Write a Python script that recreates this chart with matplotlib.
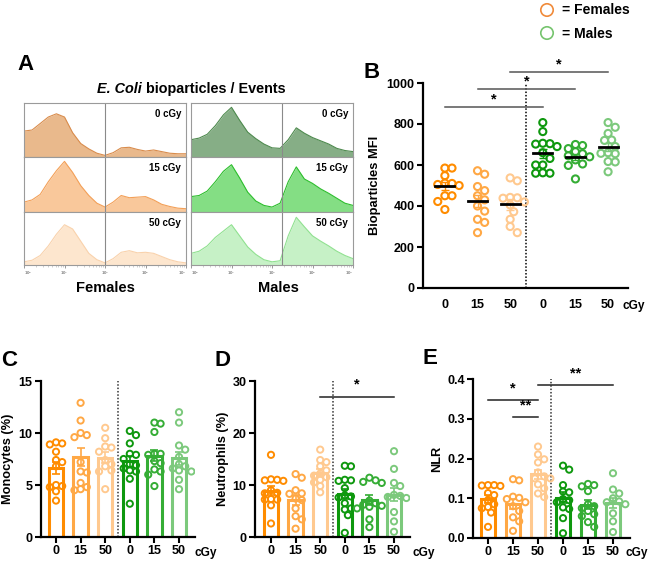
import numpy as np
import matplotlib
matplotlib.use("Agg")
import matplotlib.pyplot as plt

plt.rcParams['font.family'] = ['Liberation Sans', 'DejaVu Sans']
plt.rcParams['font.weight'] = 'bold'

W, H = 651, 562

# ---- data ----
doses = ['0', '15', '50', '0', '15', '50']
grp_colors = ['#FF8C00', '#FFA845', '#FFC98F', '#0E980E', '#35AD35', '#7CC97C']

# panel A: histogram heights (relative) on log10 grid 0..4 step 0.2
hist_log = np.linspace(0, 4, 21)
hist_f0 = [0.48, 0.50, 0.62, 0.74, 0.80, 0.74, 0.45, 0.25, 0.15, 0.07, 0.03, 0.08, 0.17, 0.18, 0.14, 0.11, 0.13, 0.10, 0.07, 0.06, 0.06]
hist_f15 = [0.18, 0.22, 0.32, 0.55, 0.75, 0.92, 0.72, 0.48, 0.30, 0.16, 0.09, 0.18, 0.30, 0.26, 0.27, 0.28, 0.22, 0.14, 0.10, 0.07, 0.06]
hist_f50 = [0.06, 0.09, 0.18, 0.36, 0.58, 0.76, 0.68, 0.45, 0.22, 0.10, 0.04, 0.12, 0.24, 0.27, 0.23, 0.24, 0.22, 0.16, 0.10, 0.06, 0.04]
hist_m0 = [0.32, 0.35, 0.42, 0.58, 0.78, 0.92, 0.68, 0.46, 0.34, 0.24, 0.17, 0.16, 0.32, 0.54, 0.44, 0.36, 0.30, 0.24, 0.16, 0.12, 0.10]
hist_m15 = [0.28, 0.30, 0.38, 0.55, 0.74, 0.86, 0.62, 0.36, 0.20, 0.12, 0.09, 0.16, 0.55, 0.82, 0.60, 0.52, 0.42, 0.34, 0.25, 0.16, 0.12]
hist_m50 = [0.22, 0.26, 0.36, 0.52, 0.64, 0.76, 0.55, 0.34, 0.20, 0.10, 0.06, 0.08, 0.55, 0.90, 0.72, 0.55, 0.45, 0.36, 0.26, 0.18, 0.12]
row_labels = ['0 cGy', '15 cGy', '50 cGy']
fem_hist_colors = [('#E9B98C', '#D98C4C'), ('#F9C89B', '#F3A058'), ('#FDE6CE', '#F9D2AC')]
male_hist_colors = [('#86AE86', '#4E8A4E'), ('#84DE84', '#2DBE2D'), ('#C6F1C6', '#90E190')]

# panel B: bioparticles MFI
mfi = [
    [585, 585, 548, 512, 510, 505, 500, 450, 450, 422, 383],
    [572, 555, 495, 475, 450, 430, 400, 375, 335, 320, 270],
    [537, 523, 442, 440, 438, 420, 405, 372, 335, 300, 270],
    [807, 763, 706, 704, 702, 690, 660, 632, 600, 600, 562, 560, 560],
    [700, 695, 680, 665, 655, 645, 640, 625, 605, 598, 532],
    [807, 784, 754, 722, 720, 690, 660, 657, 655, 617, 615, 567],
]
# panel C: monocytes (%)
mono = [
    [9.1, 9.0, 8.9, 8.2, 7.4, 7.2, 6.8, 5.0, 4.9, 4.8, 4.4, 3.5],
    [12.9, 11.2, 10.0, 9.8, 9.6, 7.2, 6.3, 6.2, 5.2, 4.8, 4.6, 4.5],
    [10.5, 9.5, 8.7, 8.6, 8.2, 7.4, 7.0, 6.8, 6.4, 6.3, 4.6],
    [10.2, 9.8, 9.0, 8.0, 7.9, 7.5, 7.0, 6.9, 6.6, 6.4, 6.3, 5.6, 3.2],
    [11.0, 10.9, 10.1, 8.0, 8.0, 7.9, 7.3, 7.1, 6.5, 6.3, 6.0, 4.9],
    [12.0, 11.0, 8.8, 8.4, 7.7, 7.0, 6.8, 6.6, 6.4, 6.3, 5.5, 4.6],
]
# panel D: neutrophils (%)
neut = [
    [15.8, 11.1, 11.0, 10.9, 10.8, 9.0, 8.5, 8.4, 7.3, 7.2, 7.2, 6.1, 2.6],
    [12.1, 11.4, 9.0, 8.4, 8.3, 7.4, 7.1, 5.5, 4.0, 3.4, 1.6],
    [16.8, 14.8, 14.4, 13.6, 12.8, 12.2, 11.8, 11.5, 11.0, 10.5, 9.8, 8.6],
    [13.7, 13.6, 11.0, 10.9, 10.8, 9.4, 8.0, 7.8, 7.6, 6.5, 5.5, 5.3, 4.2, 0.8],
    [11.4, 10.9, 10.6, 10.4, 7.0, 6.5, 6.2, 6.0, 5.8, 5.5, 3.4, 1.9],
    [16.5, 13.1, 10.4, 9.8, 8.1, 7.9, 7.7, 7.5, 4.8, 3.0, 1.0],
]
# panel E: NLR
nlr = [
    [0.133, 0.133, 0.132, 0.131, 0.113, 0.108, 0.095, 0.085, 0.078, 0.075, 0.064, 0.028],
    [0.148, 0.145, 0.104, 0.101, 0.098, 0.090, 0.080, 0.068, 0.052, 0.042, 0.018],
    [0.230, 0.210, 0.198, 0.190, 0.165, 0.155, 0.150, 0.150, 0.135, 0.125, 0.112, 0.103],
    [0.182, 0.172, 0.133, 0.117, 0.115, 0.098, 0.095, 0.090, 0.077, 0.073, 0.050, 0.012],
    [0.136, 0.133, 0.130, 0.118, 0.085, 0.080, 0.075, 0.068, 0.060, 0.055, 0.040, 0.028],
    [0.163, 0.122, 0.112, 0.100, 0.092, 0.090, 0.085, 0.062, 0.042, 0.015],
]

fig = plt.figure(figsize=(W / 100, H / 100), dpi=100)


def px_axes(x0, y0, x1, y1):
    return fig.add_axes([x0 / W, 1 - y1 / H, (x1 - x0) / W, (y1 - y0) / H])


def ftext(x, y, s, **kw):
    return fig.text(x / W, 1 - y / H, s, **kw)


def swarm(vals, xc, ax, d_px):
    # simple beeswarm, points may overlap a bit like Prism does
    bb = ax.get_position()
    x0, x1 = ax.get_xlim()
    y0, y1 = ax.get_ylim()
    ppx = bb.width * W / (x1 - x0)
    ppy = bb.height * H / (y1 - y0)
    dmin = d_px * 0.95
    step = dmin * 0.5
    cands = [0.0]
    for k in range(1, 5):
        cands += [k * step, -k * step]
    placed = []
    xs = []
    for v in vals:
        py = v * ppy
        best, best_pen = 0.0, None
        for c in cands:
            pen = sum(max(0, dmin - np.hypot(c - qx, py - qy)) for qx, qy in placed)
            if pen == 0:
                best = c
                break
            if best_pen is None or pen < best_pen:
                best, best_pen = c, pen
        placed.append((best, py))
        xs.append(xc + best / ppx)
    return xs


def style_axes(ax):
    for s in ['top', 'right']:
        ax.spines[s].set_visible(False)
    for s in ['left', 'bottom']:
        ax.spines[s].set_linewidth(1.6)
    ax.tick_params(width=1.5, length=4, labelsize=9, pad=2)
    for lab in ax.get_yticklabels() + ax.get_xticklabels():
        lab.set_fontweight('bold')


def sig(ax, xa, xb, y, txt, dy, color='#333333'):
    ax.plot([xa, xb], [y, y], color=color, lw=1.1, clip_on=False)
    ax.text((xa + xb) / 2, y + dy, txt, ha='center', va='baseline', fontsize=10.5,
            fontweight='bold', clip_on=False)


# ---- panel A ----
ftext(25, 65, 'A', fontsize=16, fontweight='bold', ha='center', va='center')
t1 = ftext(97, 89, 'E. Coli', fontsize=10.4, fontweight='bold', style='italic', ha='left', va='center')
ax_dummy = fig.add_axes([0, 0, 1, 1], frameon=False)
ax_dummy.set_axis_off()
ax_dummy.annotate(' bioparticles / Events', xy=(1, 0.5), xycoords=t1, va='center', ha='left',
                  fontsize=10.4, fontweight='bold')

rows_y = [(103, 157), (157, 212), (212, 265)]
fem_hists = [hist_f0, hist_f15, hist_f50]
male_hists = [hist_m0, hist_m15, hist_m50]
for col, (xl, xr, hists, cols, gate) in enumerate([(24, 186, fem_hists, fem_hist_colors, 2.0),
                                                   (191, 353, male_hists, male_hist_colors, 2.24)]):
    for r in range(3):
        ax = px_axes(xl, rows_y[r][0], xr, rows_y[r][1])
        x = 10 ** hist_log
        fc, ec = cols[r]
        ax.fill_between(x, 0, hists[r], color=fc, lw=0)
        ax.plot(x, hists[r], color=ec, lw=0.8)
        ax.axvline(10 ** gate, color='#8a8a8a', lw=0.8)
        ax.set_xscale('log')
        ax.set_xlim(1, 1e4)
        ax.set_ylim(0, 1.0)
        ax.set_yticks([])
        for s in ax.spines.values():
            s.set_color('#9a9a9a')
            s.set_linewidth(0.8)
        ax.text(0.97, 0.80, row_labels[r], transform=ax.transAxes, ha='right', va='center',
                fontsize=7, fontweight='bold')
        if r < 2:
            ax.tick_params(axis='x', which='both', length=0, labelbottom=False)
        else:
            ax.set_xticks([1, 10, 100, 1000, 10000])
            labs = ax.set_xticklabels(['$10^0$', '$10^1$', '$10^2$', '$10^3$', '$10^4$'])
            labs[0].set_horizontalalignment('left')
            labs[-1].set_horizontalalignment('right')
            ax.tick_params(axis='x', which='major', length=2.5, width=0.6, colors='#888888',
                           labelsize=2.5, pad=1)
            ax.tick_params(axis='x', which='minor', length=1.2, width=0.4, colors='#aaaaaa')

ftext(105, 288, 'Females', fontsize=10.5, fontweight='bold', ha='center', va='center')
ftext(278, 288, 'Males', fontsize=10.5, fontweight='bold', ha='center', va='center')

# ---- legend ----
ax_dummy.scatter([547 / W], [1 - 10 / H], s=80, facecolors='none', edgecolors='#F08A3A', linewidths=1.2,
                 transform=fig.transFigure, clip_on=False)
ax_dummy.scatter([547 / W], [1 - 33 / H], s=80, facecolors='none', edgecolors='#76C46E', linewidths=1.2,
                 transform=fig.transFigure, clip_on=False)
ftext(562, 10, '= Females', fontsize=10, fontweight='bold', ha='left', va='center')
ftext(562, 34, '= Males', fontsize=10, fontweight='bold', ha='left', va='center')

# ---- panel B ----
axB = px_axes(423, 83, 628, 288)
axB.set_xlim(-0.67, 5.61)
axB.set_ylim(0, 1000)
for i, vals in enumerate(mfi):
    xs = swarm(vals, i, axB, 7.5)
    axB.scatter(xs, vals, s=26, facecolors='none', edgecolors=grp_colors[i], linewidths=1.5, zorder=3)
    m = np.mean(vals)
    sem = np.std(vals, ddof=1) / np.sqrt(len(vals))
    axB.errorbar(i, m, yerr=sem, color=grp_colors[i], lw=1, capsize=3, capthick=1, zorder=4)
    axB.plot([i - 0.29, i + 0.29], [m, m], color='black', lw=2, zorder=5)
axB.plot([2.5, 2.5], [0, 1000], color='black', lw=1.1, ls=(0, (1, 1.2)))
axB.set_xticks(range(6))
axB.set_xticklabels(doses)
axB.set_yticks(range(0, 1001, 200))
style_axes(axB)
axB.tick_params(axis='x', length=0, pad=8)
axB.set_ylabel('Bioparticles MFI', fontsize=9.3, fontweight='bold', labelpad=4)
sig(axB, 0, 3, 883, '*', 18, color='#555555')
sig(axB, 1, 4, 971, '*', 18, color='#555555')
sig(axB, 2, 5, 1054, '*', 18, color='#555555')
ftext(634, 306, 'cGy', fontsize=8.6, fontweight='bold', ha='center', va='center')
ftext(372, 72, 'B', fontsize=16, fontweight='bold', ha='center', va='center')


# ---- bar panels ----
def bar_panel(box, data, ylim, yticks, ylabel, xlim, d_px=6.5):
    ax = px_axes(*box)
    ax.set_xlim(*xlim)
    ax.set_ylim(*ylim)
    for i, vals in enumerate(data):
        m = np.mean(vals)
        sem = np.std(vals, ddof=1) / np.sqrt(len(vals))
        ax.bar(i, m, width=0.58, facecolor='none', edgecolor=grp_colors[i], lw=2.2, zorder=2)
        ax.errorbar(i, m, yerr=sem, color=grp_colors[i], lw=1.2, capsize=3, capthick=1.2, zorder=3)
        xs = swarm(vals, i, ax, d_px)
        ax.scatter(xs, vals, s=20, facecolors='none', edgecolors=grp_colors[i], linewidths=1.4,
                   zorder=4)
    ax.plot([2.5, 2.5], list(ylim), color='#333333', lw=1.1, ls=(0, (1, 1.2)))
    ax.set_xticks(range(6))
    ax.set_xticklabels(doses)
    ax.set_yticks(yticks)
    style_axes(ax)
    ax.set_ylabel(ylabel, fontsize=9.2, fontweight='bold', labelpad=3)
    return ax


axC = bar_panel((41, 381, 195, 537), mono, (0, 15), [0, 5, 10, 15], 'Monocytes (%)', (-0.61, 5.65))
axD = bar_panel((255, 381, 410, 537), neut, (0, 30), [0, 10, 20, 30], 'Neutrophils (%)', (-0.65, 5.65))
sig(axD, 2, 5, 26.9, '*', 1.6, color='#222222')
axE = bar_panel((473, 379, 630, 538), nlr, (0, 0.4), [0.0, 0.1, 0.2, 0.3, 0.4], 'NLR', (-0.6, 5.68))
axE.set_yticklabels(['0.0', '0.1', '0.2', '0.3', '0.4'], fontweight='bold')
sig(axE, 0, 2, 0.347, '*', 0.02, color='#222222')
sig(axE, 1, 2, 0.304, '**', 0.02, color='#222222')
sig(axE, 2, 5, 0.385, '**', 0.02, color='#222222')

ftext(206, 553, 'cGy', fontsize=8.6, fontweight='bold', ha='center', va='center')
ftext(424, 553, 'cGy', fontsize=8.6, fontweight='bold', ha='center', va='center')
ftext(637, 553, 'cGy', fontsize=8.6, fontweight='bold', ha='center', va='center')
ftext(9, 360, 'C', fontsize=16, fontweight='bold', ha='center', va='center')
ftext(222, 360, 'D', fontsize=16, fontweight='bold', ha='center', va='center')
ftext(430, 358, 'E', fontsize=16, fontweight='bold', ha='center', va='center')

fig.savefig('out.png', dpi=100)
